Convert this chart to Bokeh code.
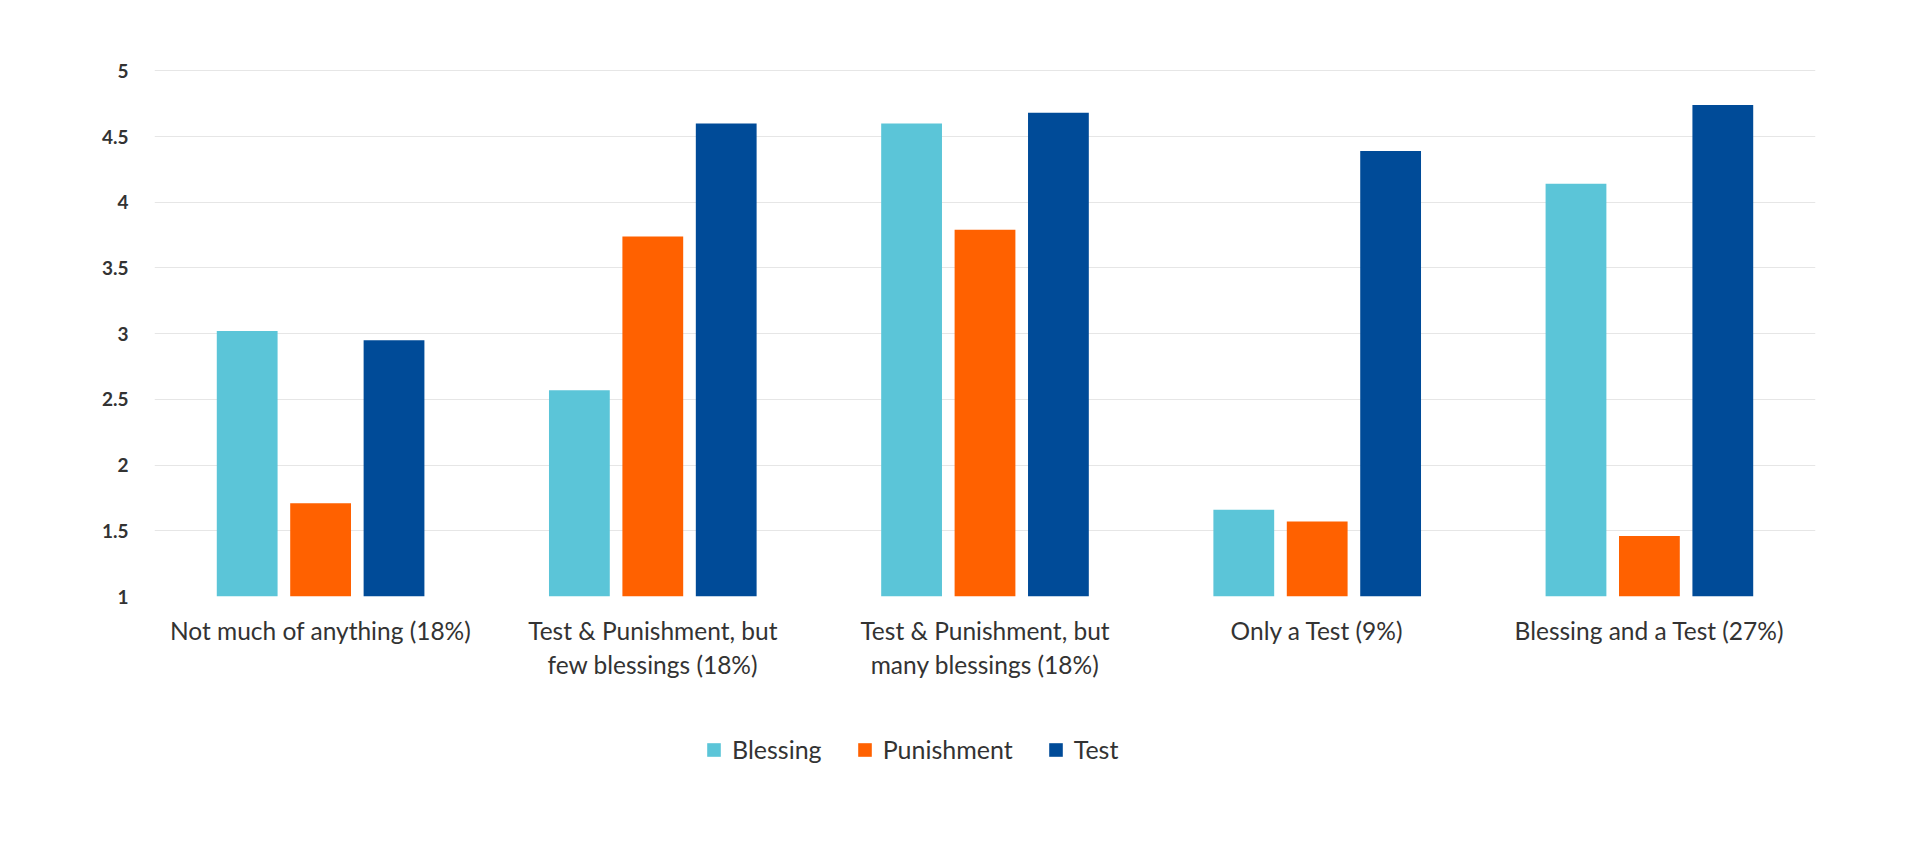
from bokeh.plotting import figure
from bokeh.layouts import column
from bokeh.models import ColumnDataSource, FactorRange, Range1d, Legend, LegendItem
from bokeh.transform import dodge
from bokeh.embed import file_html
from bokeh.resources import INLINE

categories = [
    "Not much of anything (18%)",
    "Test & Punishment, but\nfew blessings (18%)",
    "Test & Punishment, but\nmany blessings (18%)",
    "Only a Test (9%)",
    "Blessing and a Test (27%)",
]
blessing = [3.02, 2.57, 4.60, 1.66, 4.14]
punishment = [1.71, 3.74, 3.79, 1.57, 1.46]
test = [2.95, 4.60, 4.68, 4.39, 4.74]
y_ticks = [1, 1.5, 2, 2.5, 3, 3.5, 4, 4.5, 5]
y_tick_labels = ["1", "1.5", "2", "2.5", "3", "3.5", "4", "4.5", "5"]
series_names = ["Blessing", "Punishment", "Test"]
colors = ["#5BC5D8", "#FF6100", "#004B98"]

source = ColumnDataSource(dict(cat=categories, Blessing=blessing, Punishment=punishment, Test=test))

FONT = "Lato"
TEXT = "#333333"

p = figure(
    x_range=FactorRange(*categories, range_padding=0),
    y_range=Range1d(1, 5.01),
    width=1900, height=700,
    output_backend="svg", toolbar_location=None,
    min_border_left=154, min_border_right=85, min_border_top=69, min_border_bottom=104,
)
p.outline_line_color = None
p.background_fill_color = "white"
p.border_fill_color = "white"

renderers = []
offsets = [-0.221, 0.0, 0.221]
for name, col, off in zip(series_names, colors, offsets):
    r = p.vbar(x=dodge("cat", off, range=p.x_range), top=name, bottom=1, width=0.183,
               source=source, fill_color=col, line_color=None)
    renderers.append(r)

p.xgrid.grid_line_color = None
p.ygrid.grid_line_color = "#e6e6e6"
p.ygrid.grid_line_width = 1.2
p.ygrid.ticker = y_ticks

p.yaxis.ticker = y_ticks
p.yaxis.major_label_overrides = {t: l for t, l in zip(y_ticks, y_tick_labels)}
p.yaxis.axis_line_color = None
p.yaxis.major_tick_line_color = None
p.yaxis.minor_tick_line_color = None
p.yaxis.major_label_text_font = FONT
p.yaxis.major_label_text_font_size = "19px"
p.yaxis.major_label_text_font_style = "bold"
p.yaxis.major_label_text_color = TEXT
p.yaxis.major_label_standoff = 20

p.xaxis.axis_line_color = None
p.xaxis.major_tick_line_color = None
p.xaxis.minor_tick_line_color = None
p.xaxis.major_label_text_font = FONT
p.xaxis.major_label_text_font_size = "24.5px"
p.xaxis.major_label_text_color = TEXT
p.xaxis.major_label_standoff = 13

# legend strip below the chart (its frame is aligned with the chart's frame)
lp = figure(
    width=1900, height=110,
    x_range=FactorRange(*categories, range_padding=0), y_range=Range1d(100, 101),
    output_backend="svg", toolbar_location=None,
    min_border=0,
)
lp.outline_line_color = None
lp.axis.visible = False
lp.grid.visible = False
lp.border_fill_color = "white"
lp.background_fill_color = "white"

legend_renderers = []
for name, col, off in zip(series_names, colors, offsets):
    legend_renderers.append(
        lp.vbar(x=dodge("cat", off, range=lp.x_range), top=name, bottom=1, width=0.183,
                source=source, fill_color=col, line_color=None)
    )

legend = Legend(
    items=[LegendItem(label=n, renderers=[r]) for n, r in zip(series_names, legend_renderers)],
    orientation="horizontal",
    location=(551, 46),
    label_text_font=FONT,
    label_text_font_size="25px",
    label_text_color=TEXT,
    glyph_width=17, glyph_height=17,
    label_standoff=10,
    spacing=34,
    border_line_color=None,
    background_fill_alpha=0,
    margin=0,
    padding=0,
)
lp.add_layout(legend, "center")

layout = column(p, lp, spacing=0)
open("out.html", "w").write(file_html(layout, INLINE))
